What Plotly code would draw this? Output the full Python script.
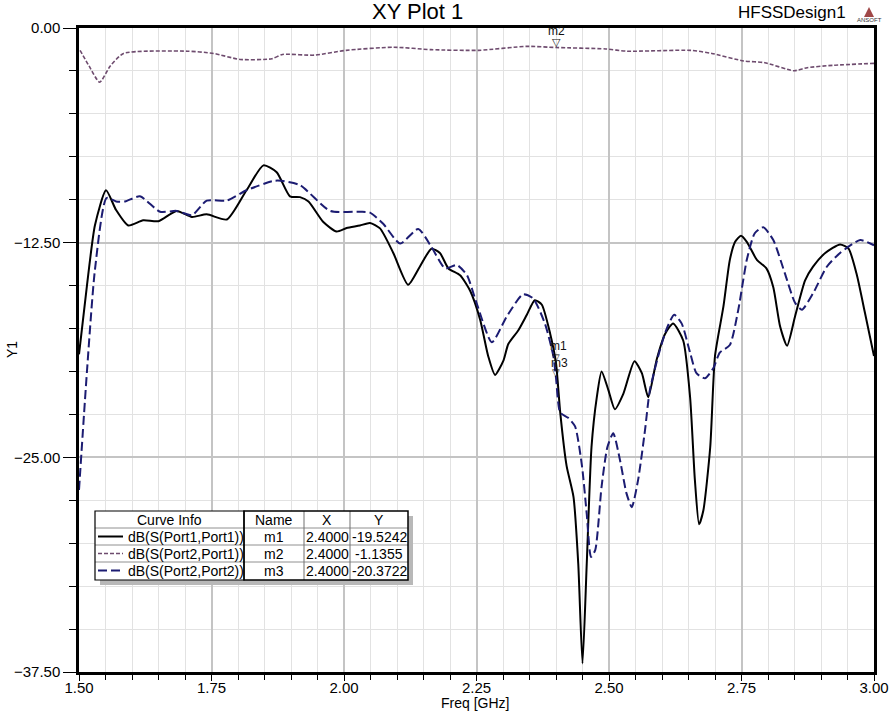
import plotly.graph_objects as go

# ---------------- data ----------------
s11_freq = [1.500, 1.515, 1.530, 1.551, 1.570, 1.593, 1.621, 1.650, 1.684, 1.713, 1.741, 1.779,
            1.816, 1.848, 1.873, 1.898, 1.917, 1.933, 1.961, 1.986, 2.005, 2.030, 2.049, 2.068,
            2.093, 2.121, 2.143, 2.165, 2.181, 2.197, 2.219, 2.238, 2.257, 2.272, 2.285, 2.301,
            2.310, 2.329, 2.345, 2.360, 2.373, 2.389, 2.400, 2.408, 2.420, 2.433, 2.442, 2.450,
            2.458, 2.467, 2.477, 2.486, 2.499, 2.511, 2.527, 2.548, 2.562, 2.574, 2.590, 2.606,
            2.621, 2.640, 2.653, 2.662, 2.670, 2.678, 2.691, 2.700, 2.716, 2.728, 2.738, 2.749,
            2.760, 2.779, 2.797, 2.810, 2.823, 2.836, 2.851, 2.870, 2.885, 2.908, 2.936, 2.952,
            2.967, 2.983, 3.000]
s11_db = [-19.0, -15.0, -11.5, -9.45, -10.6, -11.5, -11.2, -11.25, -10.65, -11.0, -10.85, -11.15,
          -9.45, -8.0, -8.4, -9.8, -9.85, -10.1, -11.3, -11.85, -11.65, -11.5, -11.35, -11.67,
          -13.1, -14.95, -13.9, -12.85, -13.1, -14.0, -14.4, -15.3, -17.0, -19.1, -20.2, -19.35,
          -18.4, -17.6, -16.7, -15.85, -16.1, -17.8, -19.52, -22.4, -25.5, -27.3, -31.2, -37.0,
          -31.2, -24.4, -21.5, -20.0, -21.1, -22.2, -21.3, -19.4, -20.1, -21.5, -19.3, -17.8,
          -17.2, -18.2, -21.5, -26.3, -28.9, -28.1, -24.4, -19.1, -16.2, -13.5, -12.45, -12.1,
          -12.45, -13.5, -14.0, -15.1, -17.4, -18.5, -16.8, -14.7, -13.9, -13.1, -12.6, -12.85,
          -14.3, -16.6, -19.1]

s21_freq = [1.502, 1.519, 1.539, 1.559, 1.584, 1.704, 1.754, 1.804, 1.864, 1.884, 1.944, 2.004,
            2.094, 2.164, 2.254, 2.344, 2.400, 2.494, 2.534, 2.654, 2.694, 2.754, 2.794, 2.849,
            2.874, 2.924, 3.000]
s21_db = [-1.30, -2.21, -3.16, -2.21, -1.48, -1.35, -1.48, -1.83, -1.79, -1.54, -1.58, -1.30,
          -1.12, -1.26, -1.30, -1.07, -1.1355, -1.22, -1.35, -1.30, -1.48, -1.92, -2.02, -2.49,
          -2.31, -2.17, -2.06]

s22_freq = [1.500, 1.515, 1.530, 1.552, 1.570, 1.587, 1.615, 1.653, 1.684, 1.713, 1.741, 1.779,
            1.816, 1.867, 1.882, 1.917, 1.974, 2.030, 2.049, 2.074, 2.106, 2.140, 2.165, 2.191,
            2.213, 2.232, 2.250, 2.279, 2.307, 2.338, 2.357, 2.379, 2.395, 2.400, 2.408, 2.423,
            2.436, 2.449, 2.458, 2.466, 2.474, 2.486, 2.497, 2.508, 2.521, 2.533, 2.543, 2.555,
            2.568, 2.577, 2.596, 2.609, 2.623, 2.637, 2.653, 2.665, 2.681, 2.697, 2.709, 2.728,
            2.744, 2.760, 2.775, 2.791, 2.810, 2.832, 2.851, 2.864, 2.885, 2.911, 2.936, 2.974,
            3.000]
s22_db = [-26.9, -20.0, -14.1, -9.9, -10.1, -10.1, -9.8, -10.7, -10.65, -10.9, -10.05, -10.05,
          -9.45, -8.9, -8.9, -9.15, -10.65, -10.7, -10.75, -11.4, -12.55, -11.7, -12.75, -14.0,
          -13.8, -14.4, -16.0, -18.3, -16.8, -15.5, -15.75, -17.2, -19.1, -20.37, -22.4, -22.7,
          -23.2, -25.5, -28.3, -30.8, -30.4, -26.7, -24.4, -23.6, -25.2, -27.1, -27.9, -26.3,
          -23.4, -21.1, -18.75, -17.5, -16.7, -17.2, -18.9, -20.1, -20.4, -19.8, -18.9, -18.46,
          -16.4, -13.5, -11.95, -11.6, -12.35, -14.3, -16.0, -16.4, -15.45, -13.9, -13.1, -12.35,
          -12.65]

curve_names = ["dB(S(Port1,Port1))", "dB(S(Port2,Port1))", "dB(S(Port2,Port2))"]
marker_names = ["m1", "m2", "m3"]
marker_x = [2.4000, 2.4000, 2.4000]
marker_y = [-19.5242, -1.1355, -20.3722]

x_ticks = [1.50, 1.75, 2.00, 2.25, 2.50, 2.75, 3.00]
y_ticks = [0.0, -12.5, -25.0, -37.5]

# ---------------- styling ----------------
W, H = 895, 713
L, R, T, B = 79, 874, 28, 672
NARROW = "Liberation Sans Narrow, Arial Narrow, Liberation Sans, Arial, sans-serif"
REG = "Liberation Sans, Arial, sans-serif"
C11, C21, C22 = "#000000", "#6e4b6e", "#1c1c72"
D21, D22 = "4px,2px", "9px,4px"


def px(xp):
    return (xp - L) / (R - L)


def py(yp):
    return (B - yp) / (B - T)


def txt(xp, yp, text, size, family=REG, xanchor="center", color="#000", **kw):
    return dict(xref="paper", yref="paper", x=px(xp), y=py(yp), text=text, showarrow=False,
                xanchor=xanchor, yanchor="middle", font=dict(family=family, size=size, color=color),
                **kw)


fig = go.Figure()
fig.add_trace(go.Scatter(x=s11_freq, y=s11_db, mode="lines", name=curve_names[0],
                         line=dict(color=C11, width=2, shape="spline", smoothing=0.6)))
fig.add_trace(go.Scatter(x=s21_freq, y=s21_db, mode="lines", name=curve_names[1],
                         line=dict(color=C21, width=1.6, dash=D21, shape="spline", smoothing=0.6)))
fig.add_trace(go.Scatter(x=s22_freq, y=s22_db, mode="lines", name=curve_names[2],
                         line=dict(color=C22, width=2, dash=D22, shape="spline", smoothing=0.6)))

shapes = []
ann = []

# title texts
ann.append(txt(417, 12, "XY Plot 1", 22, family=NARROW))
ann.append(txt(848, 13, "HFSSDesign1", 17, family=NARROW, xanchor="right"))
ann.append(txt(869, 20, "ANSOFT", 6, color="#333"))
shapes.append(dict(type="path", xref="paper", yref="paper",
                   path=f"M {px(864)} {py(17)} L {px(869)} {py(7)} L {px(874)} {py(17)} Z",
                   fillcolor="#a04848", line=dict(width=0)))


# markers (data-anchored)
def mk(yv, text, shift, size, xshift=0):
    return dict(x=2.4, y=yv, text=text, showarrow=False, xanchor="center", yanchor="bottom",
                yshift=shift, xshift=xshift, font=dict(family=REG, size=size, color="#111"))


ann.append(mk(marker_y[1], "▽", -2, 11))
ann.append(mk(marker_y[1], "m2", 8, 12))
ann.append(mk(marker_y[0], "▽", -2, 10))
ann.append(mk(marker_y[0], "m1", 8, 12, xshift=2))
ann.append(mk(marker_y[2], "▽", -2, 10))
ann.append(mk(marker_y[2], "m3", 6, 12, xshift=3))

# table
tl, tr, tt, tb = 95, 408, 511, 580
c1, c2, c3 = 244, 304, 350
rows = [528, 545, 562]
shapes.append(dict(type="rect", xref="paper", yref="paper", x0=px(tl + 5), x1=px(tr + 5),
                   y0=py(tt + 5), y1=py(tb + 5), fillcolor="#b8b8b8", line=dict(width=0),
                   layer="above"))
shapes.append(dict(type="rect", xref="paper", yref="paper", x0=px(tl), x1=px(tr),
                   y0=py(tt), y1=py(tb), fillcolor="#ffffff", line=dict(width=0), layer="above"))
for yr in rows:
    shapes.append(dict(type="line", xref="paper", yref="paper", x0=px(tl), x1=px(tr),
                       y0=py(yr), y1=py(yr), line=dict(color="#909090", width=1), layer="above"))
for xc in [c2, c3]:
    shapes.append(dict(type="line", xref="paper", yref="paper", x0=px(xc), x1=px(xc),
                       y0=py(tt), y1=py(tb), line=dict(color="#707070", width=1), layer="above"))
shapes.append(dict(type="rect", xref="paper", yref="paper", x0=px(tl), x1=px(c1),
                   y0=py(tt), y1=py(tb), line=dict(color="#000", width=1.2), layer="above"))
shapes.append(dict(type="rect", xref="paper", yref="paper", x0=px(c1), x1=px(tr),
                   y0=py(tt), y1=py(tb), line=dict(color="#000", width=1.5), layer="above"))

TF = 14
row_c = [536.5, 553.5, 570.5]
ann.append(txt((tl + c1) / 2, 519.5, "Curve Info", TF))
for hdr, xc in zip(["Name", "X", "Y"], [(c1 + c2) / 2, (c2 + c3) / 2, (c3 + tr) / 2]):
    ann.append(txt(xc, 519.5, hdr, TF))
for i in range(3):
    col, dsh, wd = [(C11, "solid", 2), (C21, D21, 1.6), (C22, D22, 2)][i]
    shapes.append(dict(type="line", xref="paper", yref="paper", x0=px(98), x1=px(123),
                       y0=py(row_c[i]), y1=py(row_c[i]), line=dict(color=col, width=wd, dash=dsh),
                       layer="above"))
    ann.append(txt(126, row_c[i], curve_names[i], TF, xanchor="left"))
    ann.append(txt((c1 + c2) / 2, row_c[i], marker_names[i], TF))
    ann.append(txt((c2 + c3) / 2, row_c[i], f"{marker_x[i]:.4f}", TF))
    ann.append(txt((c3 + tr) / 2, row_c[i], f"{marker_y[i]:.4f}", TF))

# axis titles
ann.append(txt(475, 703, "Freq [GHz]", 14, family=NARROW))
ann.append(txt(12, 350, "Y1", 14, family=NARROW, textangle=-90))

fig.update_layout(
    width=W, height=H,
    margin=dict(l=L, r=W - R, t=T, b=H - B, pad=0, autoexpand=False),
    paper_bgcolor="#ffffff", plot_bgcolor="#ffffff",
    showlegend=False,
    shapes=shapes, annotations=ann,
    font=dict(family=NARROW, size=14, color="#000"),
)
fig.update_xaxes(range=[1.5, 3.0], tickvals=x_ticks, tickformat=".2f", automargin=False,
                 showgrid=True, gridcolor="#c4c4c4", gridwidth=2,
                 showline=True, linecolor="#000", linewidth=3, mirror=True,
                 ticks="outside", ticklen=6, tickcolor="#000", ticklabelstandoff=-6,
                 minor=dict(dtick=0.05, showgrid=True, gridcolor="#e2e2e2", gridwidth=1,
                            ticks="outside", ticklen=5, tickcolor="#000"),
                 zeroline=False, tickfont=dict(family=NARROW, size=15))
fig.update_yaxes(range=[-37.5, 0], tickvals=y_ticks, tickformat=".2f", automargin=False,
                 showgrid=True, gridcolor="#c4c4c4", gridwidth=2,
                 showline=True, linecolor="#000", linewidth=2.5, mirror=True,
                 ticks="outside", ticklen=13, tickcolor="#000",
                 minor=dict(dtick=2.5, showgrid=True, gridcolor="#e2e2e2", gridwidth=1,
                            ticks="outside", ticklen=7, tickcolor="#000"),
                 zeroline=False, tickfont=dict(family=NARROW, size=15))

fig.write_html("out.html", config={"displayModeBar": False},
               post_script="document.body.style.margin='0';document.body.style.overflow='hidden';")
